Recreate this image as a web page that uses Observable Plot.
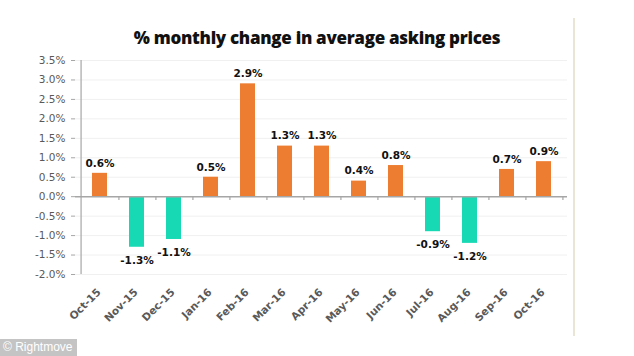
<!DOCTYPE html>
<html>
<head>
<meta charset="utf-8">
<script src="https://cdn.jsdelivr.net/npm/d3@7"></script>
<script src="https://cdn.jsdelivr.net/npm/@observablehq/plot@0.6"></script>
<style>
  html, body { margin: 0; padding: 0; background: #fff; }
  #wrap { position: relative; width: 634px; height: 356px; overflow: hidden; }
  #title { position: absolute; left: 0; width: 634px; top: 26px; text-align: center;
           font-family: "Open Sans", sans-serif; font-weight: 800; font-size: 17px; color: #111; letter-spacing: -0.3px; }
  #edge { position: absolute; left: 573px; top: 18px; width: 2px; height: 318px; background: #ebe5d6; }
  #credit { position: absolute; left: 0; top: 339px; height: 17px; background: #c4c4c4; white-space: nowrap;
            color: #fff; font-family: "Liberation Sans", Arial, sans-serif; font-size: 12px; line-height: 17px; padding: 0 4px 0 3px; }
  #chart { position: absolute; left: 0; top: 0; }
</style>
</head>
<body>
<div id="wrap">
  <div id="chart"></div>
  <div id="edge"></div>
  <div id="title">% monthly change in average asking prices</div>
  <div id="credit">© Rightmove</div>
</div>
<script>
const months = ["Oct-15","Nov-15","Dec-15","Jan-16","Feb-16","Mar-16","Apr-16","May-16","Jun-16","Jul-16","Aug-16","Sep-16","Oct-16"];
const changes = [0.6, -1.3, -1.1, 0.5, 2.9, 1.3, 1.3, 0.4, 0.8, -0.9, -1.2, 0.7, 0.9];
const yTicks = [-2.0, -1.5, -1.0, -0.5, 0.0, 0.5, 1.0, 1.5, 2.0, 2.5, 3.0, 3.5];

const data = months.map((m, i) => ({month: m, value: changes[i]}));
const orange = "#ED7D31", teal = "#17DAB4", axisGray = "#a6a6a6", textGray = "#595959";
const left = 75, right = 567;
const step = (right - left) / months.length;
const fmt = v => v.toFixed(1) + "%";

const chart = Plot.plot({
  width: 634,
  height: 356,
  marginLeft: left,
  marginRight: 634 - right,
  marginTop: 60,
  marginBottom: 82,
  style: {fontFamily: "DejaVu Sans, Verdana, sans-serif", background: "transparent"},
  x: {domain: months, paddingInner: 0.6, paddingOuter: 0.3, axis: null},
  y: {domain: [-2, 3.5], axis: null},
  marks: [
    Plot.ruleY(yTicks.filter(d => d !== 0), {y: d => d, stroke: "#f0f0f0", strokeWidth: 1}),
    Plot.barY(data, {x: "month", y: "value", fill: d => d.value >= 0 ? orange : teal}),
    Plot.ruleY([0], {stroke: axisGray, strokeWidth: 1.5}),
    Plot.ruleX(months, {x: d => d, dx: step / 2, y1: 0, y2: -0.1, stroke: axisGray, strokeWidth: 1.2}),
    Plot.ruleX([months[0]], {x: d => d, dx: -step / 2, y1: -2, y2: 3.5, stroke: axisGray, strokeWidth: 1.2}),
    Plot.axisY({ticks: yTicks, tickFormat: fmt, tickSize: 4, tickPadding: 6, stroke: axisGray,
      fill: textGray, fontSize: 10.5, label: null}),
    Plot.axisX({anchor: "bottom", tickSize: 0, tickRotate: -45, tickPadding: 6, dx: -1, dy: 10,
      fill: textGray, fontSize: 10.5, fontWeight: "bold", label: null}),
    Plot.text(data.filter(d => d.value >= 0), {x: "month", y: "value", text: d => fmt(d.value),
      dy: -10, fontWeight: "bold", fontSize: 10.5, fill: "#111"}),
    Plot.text(data.filter(d => d.value < 0), {x: "month", y: "value", text: d => fmt(d.value),
      dy: 13, fontWeight: "bold", fontSize: 10.5, fill: "#111"})
  ]
});
document.getElementById("chart").appendChild(chart);
</script>
</body>
</html>
